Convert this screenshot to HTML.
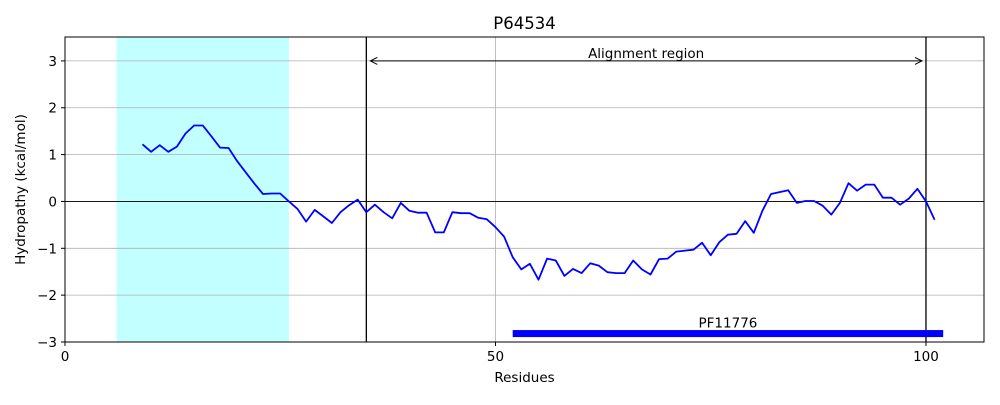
<!DOCTYPE html>
<html><head><meta charset="utf-8"><style>
body{margin:0;background:#fff}
svg text{font-family:"DejaVu Sans","Liberation Sans",sans-serif}
</style></head><body>
<svg id="chart" width="1000" height="400" xmlns="http://www.w3.org/2000/svg"></svg>
<script>
const residues=[9,10,11,12,13,14,15,16,17,18,19,20,21,22,23,24,25,26,27,28,29,30,31,32,33,34,35,36,37,38,39,40,41,42,43,44,45,46,47,48,49,50,51,52,53,54,55,56,57,58,59,60,61,62,63,64,65,66,67,68,69,70,71,72,73,74,75,76,77,78,79,80,81,82,83,84,85,86,87,88,89,90,91,92,93,94,95,96,97,98,99,100,101];
const hydropathy=[1.22,1.06,1.2,1.06,1.17,1.45,1.62,1.62,1.39,1.15,1.14,0.86,0.62,0.38,0.16,0.17,0.17,0.0,-0.16,-0.43,-0.18,-0.32,-0.46,-0.23,-0.08,0.04,-0.23,-0.07,-0.23,-0.36,-0.03,-0.2,-0.24,-0.24,-0.66,-0.66,-0.23,-0.25,-0.25,-0.35,-0.38,-0.55,-0.75,-1.19,-1.45,-1.33,-1.67,-1.22,-1.26,-1.59,-1.44,-1.53,-1.32,-1.37,-1.51,-1.53,-1.53,-1.26,-1.45,-1.56,-1.23,-1.22,-1.07,-1.05,-1.03,-0.88,-1.15,-0.87,-0.71,-0.69,-0.42,-0.67,-0.2,0.16,0.2,0.24,-0.03,0.01,0.01,-0.09,-0.28,-0.03,0.39,0.23,0.36,0.36,0.08,0.08,-0.07,0.06,0.27,0.0,-0.39];
const xTicks=[0,50,100];
const yTicks=[-3,-2,-1,0,1,2,3];
const tmRegion=[6,26];
const alignRegion=[35,100];
const domain=[52,102];
const domainLabel="PF11776";
const L=65,R=984,T=37,B=342,X0=0,X1=106.74,Y0=-3,Y1=3.51;
const sx=v=>L+(v-X0)/(X1-X0)*(R-L);
const sy=v=>B-(v-Y0)/(Y1-Y0)*(B-T);
const svg=document.getElementById('chart');
const NS='http://www.w3.org/2000/svg';
function mk(tag,attrs,name,text){const e=document.createElementNS(NS,tag);for(const k in attrs)e.setAttribute(k,attrs[k]);


if(text!==undefined)e.textContent=text;svg.appendChild(e);return e;}
mk('rect',{x:sx(tmRegion[0]),y:T,width:sx(tmRegion[1])-sx(tmRegion[0]),height:B-T,fill:'#c2ffff'},'transmembrane-region');
xTicks.forEach(t=>{if(t>0)mk('line',{x1:sx(t),x2:sx(t),y1:T,y2:B,stroke:'#b0b0b0','stroke-width':0.8},'x-grid-line');});
yTicks.forEach(t=>{mk('line',{x1:L,x2:R,y1:sy(t),y2:sy(t),stroke:'#b0b0b0','stroke-width':0.8},'y-grid-line');});
mk('line',{x1:L,x2:R,y1:sy(0),y2:sy(0),stroke:'#000','stroke-width':0.8},'zero-line');
alignRegion.forEach(a=>mk('line',{x1:sx(a),x2:sx(a),y1:T,y2:B,stroke:'#000','stroke-width':1.3},'alignment-boundary'));
const ay=sy(3),ax1=sx(alignRegion[0])+4,ax2=sx(alignRegion[1])-4;
mk('line',{x1:ax1,x2:ax2,y1:ay,y2:ay,stroke:'#000','stroke-width':1},'alignment-arrow');
mk('path',{d:`M${ax1+7},${ay-3.5}L${ax1},${ay}L${ax1+7},${ay+3.5}M${ax2-7},${ay-3.5}L${ax2},${ay}L${ax2-7},${ay+3.5}`,fill:'none',stroke:'#000','stroke-width':1},'alignment-arrowheads');
mk('text',{x:(sx(alignRegion[0])+sx(alignRegion[1]))/2,y:ay-3,'text-anchor':'middle','font-size':13.5},'alignment-label','Alignment region');
let d='';residues.forEach((r,i)=>{d+=(i?'L':'M')+sx(r).toFixed(1)+','+sy(hydropathy[i]).toFixed(1);});
mk('path',{d:d,fill:'none',stroke:'#0000ff','stroke-width':1.8,'stroke-linejoin':'round'},'hydropathy-line');
mk('rect',{x:sx(domain[0]),y:sy(-2.82)-3.5,width:sx(domain[1])-sx(domain[0]),height:7,fill:'#0000ff'},'domain-bar');
mk('text',{x:(sx(domain[0])+sx(domain[1]))/2,y:sy(-2.82)-6,'text-anchor':'middle','font-size':13.5},'domain-label',domainLabel);
mk('rect',{x:L,y:T,width:R-L,height:B-T,fill:'none',stroke:'#000','stroke-width':1},'plot-frame');
xTicks.forEach(t=>{mk('line',{x1:sx(t),x2:sx(t),y1:B,y2:B+4,stroke:'#000'},'x-tick');
mk('text',{x:sx(t),y:B+19,'text-anchor':'middle','font-size':13.5},'x-tick-label',String(t));});
yTicks.forEach(t=>{mk('line',{x1:L-4,x2:L,y1:sy(t),y2:sy(t),stroke:'#000'},'y-tick');
mk('text',{x:L-8,y:sy(t)+5,'text-anchor':'end','font-size':13.5},'y-tick-label',t<0?'\u2212'+(-t):String(t));});
mk('text',{x:(L+R)/2,y:382,'text-anchor':'middle','font-size':13.5},'x-axis-title','Residues');
mk('text',{x:25,y:(T+B)/2,'text-anchor':'middle','font-size':13.5,transform:`rotate(-90 25 ${(T+B)/2})`},'y-axis-title','Hydropathy (kcal/mol)');
mk('text',{x:(L+R)/2,y:29,'text-anchor':'middle','font-size':16.5},'chart-title','P64534');
</script>
</body></html>
